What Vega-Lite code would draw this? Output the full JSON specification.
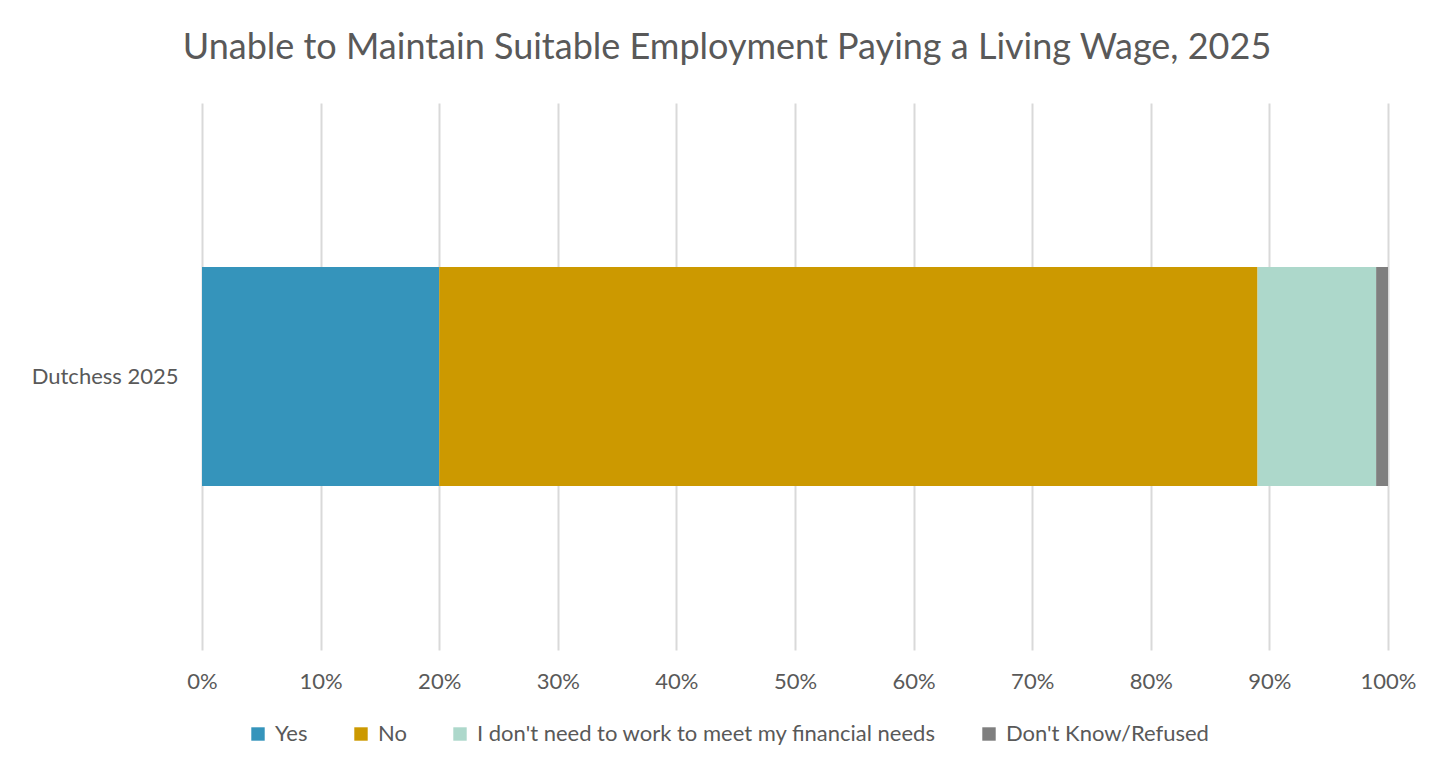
{
  "$schema": "https://vega.github.io/schema/vega-lite/v6.json",
  "width": 1186,
  "height": 547,
  "autosize": {"type": "none"},
  "padding": {"left": 202, "top": 103, "right": 62, "bottom": 120},
  "background": "white",
  "title": {
    "text": "Unable to Maintain Suitable Employment Paying a Living Wage, 2025",
    "fontSize": 36,
    "font": "Lato",
    "fontWeight": "normal",
    "color": "#595959",
    "anchor": "middle",
    "dx": -68,
    "offset": 36
  },
  "data": {
    "values": [
      {"group": "Dutchess 2025", "response": "Yes", "order": 1, "value": 0.20},
      {"group": "Dutchess 2025", "response": "No", "order": 2, "value": 0.69},
      {"group": "Dutchess 2025", "response": "I don't need to work to meet my financial needs", "order": 3, "value": 0.10},
      {"group": "Dutchess 2025", "response": "Don't Know/Refused", "order": 4, "value": 0.01}
    ]
  },
  "mark": {"type": "bar"},
  "encoding": {
    "y": {
      "field": "group",
      "type": "nominal",
      "title": null,
      "scale": {"paddingInner": 0.6, "paddingOuter": 0.3},
      "axis": {"domain": false, "ticks": false, "labelFontSize": 22, "labelFont": "Lato", "labelColor": "#595959", "labelPadding": 24}
    },
    "x": {
      "field": "value",
      "type": "quantitative",
      "stack": "zero",
      "title": null,
      "scale": {"domain": [0, 1], "nice": false},
      "axis": {
        "format": ".0%",
        "values": [0, 0.1, 0.2, 0.3, 0.4, 0.5, 0.6, 0.7, 0.8, 0.9, 1.0],
        "labelOverlap": false,
        "labelFlush": false,
        "domain": false,
        "ticks": false,
        "grid": true,
        "gridColor": "#d9d9d9",
        "gridWidth": 2,
        "labelFontSize": 22,
        "labelFont": "Lato",
        "labelColor": "#595959",
        "labelPadding": 21
      }
    },
    "order": {"field": "order", "type": "quantitative"},
    "color": {
      "field": "response",
      "type": "nominal",
      "sort": ["Yes", "No", "I don't need to work to meet my financial needs", "Don't Know/Refused"],
      "scale": {
        "domain": ["Yes", "No", "I don't need to work to meet my financial needs", "Don't Know/Refused"],
        "range": ["#3594bb", "#cc9900", "#add8cb", "#7f7f7f"]
      },
      "legend": {
        "title": null,
        "orient": "none",
        "direction": "horizontal",
        "legendX": 45,
        "legendY": 620,
        "symbolType": "square",
        "symbolSize": 180,
        "symbolStrokeWidth": 0,
        "labelFontSize": 22,
        "labelFont": "Lato",
        "labelColor": "#595959",
        "labelOffset": 6,
        "columnPadding": 42,
        "labelLimit": 700
      }
    }
  },
  "config": {"view": {"stroke": null}}
}
